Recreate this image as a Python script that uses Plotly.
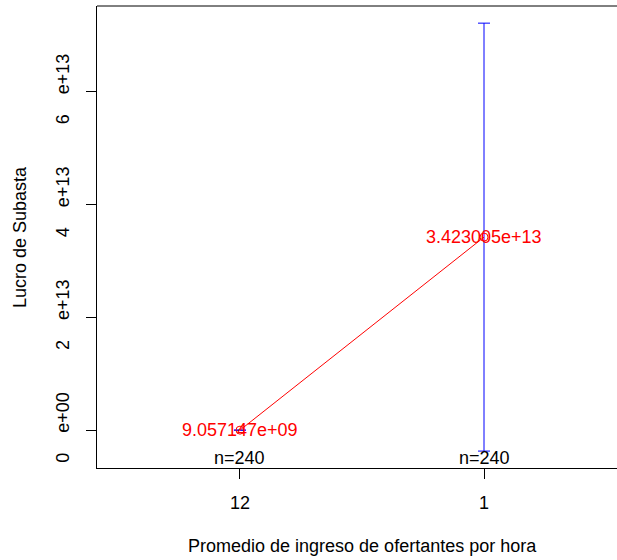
import plotly.graph_objects as go

# Data
groups = ["12", "1"]                 # category tick labels
means = [9.057147e09, 3.423005e13]   # group means
ci_upper = [None, 7.216e13]          # upper CI bound (group 1 too small to see)
ci_lower = [None, -0.37e13]          # lower CI bound
counts = [240, 240]
mean_labels = ["9.057147e+09", "3.423005e+13"]
y_ticks = [0, 2e13, 4e13, 6e13]
y_ticktext = ["0\u00a0\u00a0\u00a0\u00a0e+00", "2\u00a0\u00a0\u00a0\u00a0e+13",
              "4\u00a0\u00a0\u00a0\u00a0e+13", "6\u00a0\u00a0\u00a0\u00a0e+13"]

xpos = list(range(1, len(groups) + 1))
err_plus = [None if u is None else u - m for u, m in zip(ci_upper, means)]
err_minus = [None if l is None else m - l for l, m in zip(ci_lower, means)]

FONT = "Liberation Sans, Arial, sans-serif"
FS = 18

fig = go.Figure()
# error bars
fig.add_trace(go.Scatter(
    x=xpos, y=means, mode="markers",
    marker=dict(size=1, color="rgba(0,0,0,0)"),
    error_y=dict(type="data", symmetric=False, array=err_plus, arrayminus=err_minus,
                 color="#0000FF", thickness=1, width=6),
    showlegend=False, hoverinfo="skip"))
# connecting line + points
fig.add_trace(go.Scatter(
    x=xpos, y=means, mode="lines+markers",
    line=dict(color="#FF0000", width=1),
    marker=dict(symbol="circle-open", size=8, color="#FF0000", line=dict(width=1)),
    showlegend=False))

ann = []
for xp, m, lab in zip(xpos, means, mean_labels):
    ann.append(dict(x=xp, y=m, xref="x", yref="y", text=lab, showarrow=False,
                    font=dict(family=FONT, size=FS, color="#FF0000"),
                    xanchor="center", yanchor="middle"))
for xp, n in zip(xpos, counts):
    ann.append(dict(x=xp, y=0, xref="x", yref="paper", text=f"n={n}", showarrow=False,
                    font=dict(family=FONT, size=FS, color="black"),
                    xanchor="center", yanchor="bottom", yshift=-2))
ann.append(dict(x=1.5, y=0, xref="x", yref="paper", text="Promedio de ingreso de ofertantes por hora",
                showarrow=False, font=dict(family=FONT, size=FS, color="black"),
                xanchor="center", yanchor="middle", yshift=-78))
ann.append(dict(x=0, y=0.5, xref="paper", yref="paper", text="Lucro de Subasta",
                showarrow=False, textangle=-90, font=dict(family=FONT, size=FS, color="black"),
                xanchor="center", yanchor="middle", xshift=-77))

fig.update_layout(
    width=617, height=560,
    margin=dict(l=97, r=0, t=6, b=92),
    plot_bgcolor="white", paper_bgcolor="white",
    font=dict(family=FONT, size=FS, color="black"),
    annotations=ann,
    shapes=[dict(type="line", xref="paper", yref="paper", x0=0, x1=1, y0=1, y1=1,
                 line=dict(color="black", width=1))],
    xaxis=dict(range=[0.414, 2.545], tickvals=xpos, ticktext=groups,
               showgrid=False, zeroline=False, showline=True, linecolor="black",
               linewidth=1, mirror=False, ticks="outside", ticklen=10, tickcolor="black",
               ticklabelstandoff=8),
    yaxis=dict(range=[-0.67e13, 7.52e13], tickvals=y_ticks, ticktext=y_ticktext,
               tickangle=-90, showgrid=False, zeroline=False, showline=True,
               linecolor="black", linewidth=1, mirror=False, ticks="outside",
               ticklen=10, tickcolor="black", ticklabelstandoff=10),
)
fig.write_html(
    "out.html",
    config={"displayModeBar": False},
    post_script=("document.body.style.margin='0';document.body.style.overflow='hidden';"
                 "document.documentElement.style.overflow='hidden';"),
)
